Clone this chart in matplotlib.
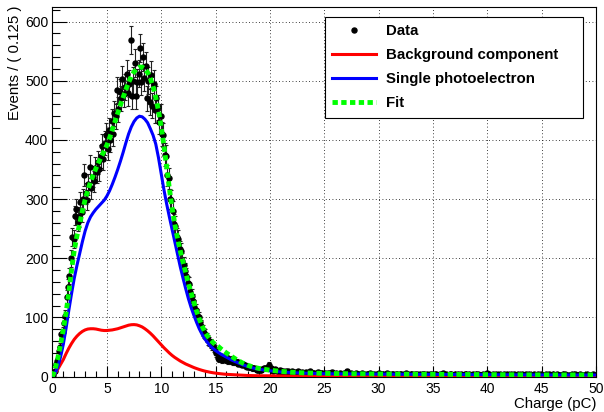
import numpy as np
import matplotlib
matplotlib.use("Agg")
import matplotlib.pyplot as plt
from matplotlib.lines import Line2D
from matplotlib.ticker import MultipleLocator

plt.rcParams['font.family'] = ['Liberation Sans', 'DejaVu Sans']

# histogram, 0.125 pC bins from 0 to 50 pC
bin_width = 0.125
counts_peak = [
    3, 9, 21, 26, 44, 50, 72, 76,
    90, 102, 135, 152, 170, 200, 236, 232,
    272, 284, 262, 270, 295, 278, 300, 341,
    310, 298, 325, 355, 318, 338, 330, 352,
    345, 362, 350, 372, 390, 368, 395, 408,
    385, 416, 400, 432, 410, 445, 440, 484,
    452, 481, 470, 503, 478, 490, 512, 480,
    495, 569, 474, 500, 530, 474, 497, 512,
    555, 498, 540, 505, 525, 470, 500, 464,
    510, 458, 495, 450, 470, 455, 430, 440,
    410, 408, 375, 372, 340, 335, 300, 298,
    280, 258, 255, 236, 232, 215, 212, 195,
    188, 178, 170, 158, 156, 143, 137, 128,
    118, 112, 104, 100, 92, 86, 78, 74,
    72, 66, 62, 60, 56, 52, 48, 46,
    40, 32, 30, 34, 29, 33, 30, 28,
    31, 27, 29, 26, 25, 27, 24, 25,
    22, 23, 21, 20, 21, 19, 18, 17,
    17, 16, 15, 14, 15, 13, 12, 12,
    11, 12, 13, 14, 15, 14, 16, 20,
]
counts_tail = [
    14, 11, 9, 13, 12, 10, 8, 11, 9, 10, 7, 9, 8, 10, 6, 8, 9, 7, 8, 6, 9, 7, 6, 8,
    7, 5, 8, 6, 7, 9, 5, 6, 7, 4, 6, 8, 5, 7, 6, 5, 6, 4, 7, 5, 6, 8, 4, 5,
    6, 5, 4, 7, 5, 3, 6, 5, 10, 4, 5, 6, 3, 5, 4, 6, 5, 3, 4, 6, 5, 4, 3, 5,
    4, 6, 3, 5, 4, 3, 5, 4, 6, 3, 4, 5, 3, 4, 6, 4, 3, 5, 4, 3, 4, 5, 3, 4,
    5, 3, 4, 3, 6, 4, 3, 4, 5, 3, 4, 2, 5, 3, 4, 3, 4, 5, 3, 4, 2, 4, 3, 5,
    3, 4, 5, 3, 2, 4, 3, 6, 3, 4, 3, 2, 4, 5, 3, 3, 4, 2, 5, 3, 4, 3, 2, 4,
    4, 3, 5, 2, 3, 4, 3, 4, 2, 5, 3, 3, 4, 2, 3, 6, 3, 4, 3, 2, 4, 3, 5, 3,
    3, 4, 2, 3, 5, 3, 4, 3, 2, 4, 3, 5, 2, 3, 4, 3, 2, 4, 3, 3, 5, 2, 4, 3,
    3, 2, 4, 3, 3, 5, 2, 4, 3, 2, 3, 4, 3, 5, 2, 3, 4, 3, 2, 4, 3, 3, 2, 4,
    3, 4, 2, 3, 3, 2, 4, 3, 5, 2, 3, 3, 4, 2, 3, 3, 2, 4, 3, 2, 3, 4, 2, 3,
]

# fitted curves
q_curve = [0, 0.25, 0.5, 0.75, 1, 1.25, 1.5, 1.75, 2, 2.25, 2.5, 2.75,
           3, 3.25, 3.5, 3.75, 4, 4.25, 4.5, 4.75, 5, 5.25, 5.5, 5.75,
           6, 6.25, 6.5, 6.75, 7, 7.25, 7.5, 7.75, 8, 8.25, 8.5, 8.75,
           9, 9.25, 9.5, 9.75, 10, 10.25, 10.5, 10.75, 11, 11.25, 11.5, 11.75,
           12, 12.25, 12.5, 12.75, 13, 13.25, 13.5, 13.75, 14, 14.25, 14.5, 14.75,
           15, 15.25, 15.5, 15.75, 16, 16.5, 17, 17.5, 18, 18.5, 19,
           20, 21, 22, 23, 24, 25, 27.5, 30, 35, 40, 45, 50]
fit_curve = [0, 14, 32, 55, 80, 108, 142, 180, 213, 238, 258, 280,
             299, 315, 329, 341, 352, 362, 372, 381, 391, 403, 417, 431,
             445, 459, 472, 485, 497, 507, 515, 520, 523, 523, 520, 514,
             504, 490, 472, 449, 422, 390, 355, 318, 285, 258, 234, 213,
             194, 176, 158, 142, 126, 111, 98, 86, 76, 69, 63, 58,
             54, 51, 47, 43.5, 40, 34, 28, 23, 19, 16, 14,
             11, 9, 7.5, 6.5, 6, 5.5, 5, 4.5, 4, 3.5, 3, 3]
bkg_curve = [0, 6, 13, 21, 29, 39, 48, 56, 63, 68.5, 73, 76.5,
             79, 80.5, 81, 81, 80.5, 79.5, 78.5, 78, 78, 78.5, 79, 80,
             81, 82.5, 84, 85.5, 87, 87.8, 88, 87.5, 86, 84, 81, 77.5,
             73.5, 69, 64, 59, 54, 49, 44.5, 40, 36, 32.5, 29.5, 26.5,
             24, 21.5, 19.5, 17.5, 15.5, 13.8, 12.2, 10.8, 9.5, 8.5, 7.5, 6.7,
             6, 5.4, 4.9, 4.4, 4, 3.5, 3, 2.5, 2, 1.8, 1.6,
             1.5, 1.2, 1, 0.8, 0.6, 0.5, 0.3, 0.2, 0.1, 0, 0, 0]
spe_curve = [0, 6, 17, 34, 55, 82, 112, 140, 166, 188, 208, 228,
             246, 260, 270, 277, 283, 288, 293, 298, 305, 314, 325, 337,
             350, 364, 379, 395, 410, 422, 431, 437, 440, 439, 435, 429,
             419, 408, 393, 370, 343, 316, 292, 270, 249, 228, 207, 186,
             167, 149, 132, 117, 104, 92, 81, 72, 64, 58, 52, 48,
             44, 41, 38, 35.5, 33, 28, 24, 20, 17, 14.5, 12.5,
             10, 8, 7, 6, 5.5, 5, 4.7, 4.3, 3.8, 3.4, 3, 2.8]

labels = ["Data", "Background component", "Single photoelectron", "Fit"]

counts = np.array(counts_peak + counts_tail, dtype=float)
charge = bin_width / 2 + bin_width * np.arange(len(counts))
err = np.sqrt(counts)

fig = plt.figure(figsize=(6.04, 4.12), dpi=100)
ax = fig.add_axes([0.0869, 0.0857, 0.8999, 0.8966])

ax.errorbar(charge, counts, yerr=err, fmt='o', ms=3.6, color='black',
            ecolor='#222222', elinewidth=0.8, capsize=1.2, capthick=0.8, zorder=3)
ax.plot(q_curve, bkg_curve, color='red', lw=2.2, zorder=4)
ax.plot(q_curve, spe_curve, color='blue', lw=2.2, zorder=5)
ax.plot(q_curve, fit_curve, color='#00ff00', lw=3.5, ls=(0, (1.1, 0.7)), zorder=6)

ax.set_xlim(0, 50)
ax.set_ylim(0, 624)
ax.xaxis.set_major_locator(MultipleLocator(5))
ax.xaxis.set_minor_locator(MultipleLocator(1))
ax.yaxis.set_major_locator(MultipleLocator(100))
ax.yaxis.set_minor_locator(MultipleLocator(20))
ax.tick_params(which='both', direction='in', top=False, right=False,
               width=0.8, labelsize=10)
ax.tick_params(axis='x', which='major', length=8, pad=3.5)
ax.tick_params(axis='x', which='minor', length=4)
ax.tick_params(axis='y', which='major', length=11, pad=3)
ax.tick_params(axis='y', which='minor', length=5.5)
for s in ax.spines.values():
    s.set_linewidth(0.8)

ax.set_axisbelow(True)
ax.grid(True, which='major', color='black', ls=(0, (1, 3)), lw=0.6)

ax.set_xlabel("Charge (pC)", fontsize=10.8, loc='right')
ax.set_ylabel("Events / ( 0.125 )", fontsize=10.8, loc='top')
ax.xaxis.set_label_coords(1.0, -0.054)
ax.yaxis.set_label_coords(-0.056, 1.005)

handles = [
    Line2D([], [], marker='o', ls='none', color='black', ms=3.6),
    Line2D([], [], color='red', lw=2.2),
    Line2D([], [], color='blue', lw=2.2),
    Line2D([], [], color='#00ff00', lw=3.5, ls=(0, (1.1, 0.7))),
]
leg = ax.legend(handles, labels, loc='upper left',
                bbox_to_anchor=(0.501, 0.974, 0.475, 0), mode='expand',
                borderaxespad=0, fancybox=False, edgecolor='black', framealpha=1,
                prop={'weight': 'bold', 'size': 10.8}, handlelength=2.9,
                handletextpad=0.65, labelspacing=0.66, borderpad=0.5)
leg.get_frame().set_linewidth(0.8)
leg.set_zorder(10)

fig.savefig("out.png", dpi=100)
